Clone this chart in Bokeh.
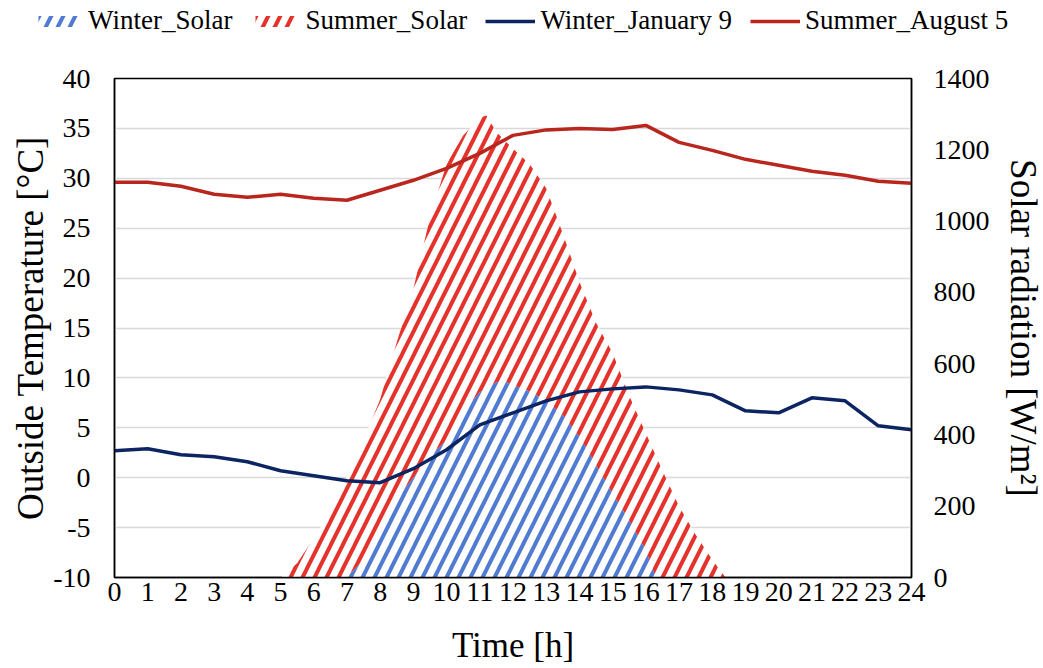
import math
from bokeh.plotting import figure
from bokeh.layouts import column
from bokeh.models import (Range1d, LinearAxis, FixedTicker, Legend, LegendItem,
                          PrintfTickFormatter)
from bokeh.embed import file_html
from bokeh.resources import INLINE

FONT = "Liberation Serif"

# ---- data ----
hours = list(range(25))
winter_temp = [2.7, 2.9, 2.3, 2.1, 1.6, 0.7, 0.2, -0.3, -0.5, 0.9, 2.8, 5.3, 6.5,
               7.7, 8.6, 8.9, 9.1, 8.8, 8.3, 6.7, 6.5, 8.0, 7.7, 5.2, 4.8]
summer_temp = [29.6, 29.6, 29.2, 28.4, 28.1, 28.4, 28.0, 27.8, 28.8, 29.8, 31.0, 32.5, 34.3,
               34.85, 35.0, 34.9, 35.3, 33.6, 32.8, 31.9, 31.3, 30.7, 30.3, 29.7, 29.5]

winter_solar_t = [7.0, 7.5, 8.0, 8.5, 9.0, 9.5, 10.0, 10.5, 11.0, 11.5, 11.7, 12.0, 12.5,
                  13.0, 13.5, 14.0, 14.5, 15.0, 15.5, 16.0, 16.3]
winter_solar = [0, 50, 115, 220, 280, 340, 385, 465, 520, 548, 553, 540, 522,
                495, 455, 395, 315, 235, 160, 76, 0]

summer_solar_t = [5.0, 5.5, 6.0, 6.5, 7.0, 7.5, 8.0, 8.5, 9.0, 9.5, 10.0, 10.5, 11.0, 11.2,
                  11.5, 12.0, 12.5, 13.0, 13.5, 14.0, 14.5, 15.0, 15.5, 16.0, 16.5, 17.0,
                  17.5, 18.0, 18.4]
summer_solar = [0, 40, 110, 185, 285, 385, 500, 660, 810, 1010, 1160, 1240, 1290, 1296,
                1250, 1203, 1160, 1092, 965, 830, 715, 630, 510, 405, 300, 200,
                120, 50, 0]

x_ticks = list(range(0, 25))
temp_ticks = list(range(-10, 41, 5))
solar_ticks = list(range(0, 1401, 200))

series_labels = ["Winter_Solar", "Summer_Solar", "Winter_January 9", "Summer_August 5"]

RED_HATCH = "#E4332A"
BLUE_HATCH = "#4F7CD2"
NAVY = "#0C2461"
DARKRED = "#B8261D"

x_lo, x_hi = 0, 24
t_lo, t_hi = -10, 40
s_lo, s_hi = 0, 1400

HATCH = dict(hatch_pattern="/", hatch_weight=4, hatch_scale=24)

p = figure(frame_width=797, frame_height=499,
           x_range=Range1d(x_lo, x_hi), y_range=Range1d(t_lo, t_hi),
           output_backend="svg", toolbar_location=None, title=None,
           min_border_left=114, min_border_right=129, min_border_top=38, min_border_bottom=88)
p.frame_align = False
p.background_fill_color = "white"
p.border_fill_color = "white"
p.outline_line_color = "black"
p.outline_line_width = 1.5

p.extra_y_ranges = {"solar": Range1d(s_lo, s_hi)}

xaxis = p.xaxis[0]
yaxis = p.yaxis[0]
raxis = LinearAxis(y_range_name="solar")
p.add_layout(raxis, "right")

xaxis.ticker = FixedTicker(ticks=x_ticks)
yaxis.ticker = FixedTicker(ticks=temp_ticks)
yaxis.formatter = PrintfTickFormatter(format="%d")
raxis.ticker = FixedTicker(ticks=solar_ticks)

# title-only axes on the outer sides
ytitle = LinearAxis(ticker=FixedTicker(ticks=[]))
rtitle = LinearAxis(y_range_name="solar", ticker=FixedTicker(ticks=[]))
p.add_layout(ytitle, "left")
p.add_layout(rtitle, "right")

for ax in (xaxis, yaxis, raxis, ytitle, rtitle):
    ax.major_tick_line_color = None
    ax.minor_tick_line_color = None
    ax.major_tick_out = 0
    ax.major_tick_in = 0
    ax.axis_line_color = "black"
    ax.axis_line_width = 1.5
    ax.major_label_text_font = FONT
    ax.major_label_text_font_size = "28px"
    ax.major_label_text_color = "black"
    ax.axis_label_text_font = FONT
    ax.axis_label_text_font_style = "normal"
    ax.axis_label_text_color = "black"
ytitle.axis_line_color = None
rtitle.axis_line_color = None
ytitle.major_label_standoff = 0
rtitle.major_label_standoff = 0

xaxis.major_label_standoff = 5
yaxis.major_label_standoff = 24
raxis.major_label_standoff = 22

xaxis.axis_label = "Time [h]"
xaxis.axis_label_text_font_size = "35px"
xaxis.axis_label_standoff = 22

ytitle.axis_label = "Outside Temperature [°C]"
ytitle.axis_label_text_font_size = "37px"
ytitle.axis_label_standoff = 0

rtitle.axis_label = "Solar radiation [W/m²]"
rtitle.axis_label_text_font_size = "37px"
rtitle.axis_label_standoff = 10

p.xgrid.visible = False
p.ygrid[0].ticker = FixedTicker(ticks=temp_ticks)
p.ygrid.grid_line_color = "#d9d9d9"
p.ygrid.grid_line_width = 1.5

# ---- solar areas (hatched) ----
p.varea(x=summer_solar_t, y1=[0] * len(summer_solar_t), y2=summer_solar,
        y_range_name="solar", fill_color="white", fill_alpha=1.0,
        hatch_color=RED_HATCH, **HATCH)
p.varea(x=winter_solar_t, y1=[0] * len(winter_solar_t), y2=winter_solar,
        y_range_name="solar", fill_color="white", fill_alpha=1.0,
        hatch_color=BLUE_HATCH, **HATCH)

# ---- temperature lines ----
p.line(hours, winter_temp, line_color=NAVY, line_width=3.5)
p.line(hours, summer_temp, line_color=DARKRED, line_width=3.5)

# ---- legend strip above the chart ----
lf = figure(width=1040, height=40, x_range=Range1d(x_lo, x_hi), y_range=Range1d(t_lo, t_hi),
            output_backend="svg", toolbar_location=None, title=None,
            x_axis_location=None, y_axis_location=None, min_border=0)
lf.frame_align = False
lf.grid.visible = False
lf.outline_line_color = None
lf.background_fill_color = "white"
lf.border_fill_color = "white"
lf.extra_y_ranges = {"solar": Range1d(s_lo, s_hi)}
g_win = lf.varea(x=winter_solar_t, y1=[0] * len(winter_solar_t), y2=winter_solar,
                 y_range_name="solar", fill_color="white", hatch_color=BLUE_HATCH,
                 visible=False, **HATCH)
g_sum = lf.varea(x=summer_solar_t, y1=[0] * len(summer_solar_t), y2=summer_solar,
                 y_range_name="solar", fill_color="white", hatch_color=RED_HATCH,
                 visible=False, **HATCH)
g_lw = lf.line(hours, winter_temp, line_color=NAVY, line_width=3.5, visible=False)
g_ls = lf.line(hours, summer_temp, line_color=DARKRED, line_width=3.5, visible=False)

legend = Legend(items=[
    LegendItem(label=series_labels[0], renderers=[g_win]),
    LegendItem(label=series_labels[1], renderers=[g_sum]),
    LegendItem(label=series_labels[2], renderers=[g_lw]),
    LegendItem(label=series_labels[3], renderers=[g_ls]),
], orientation="horizontal", location=(33, 4))
legend.border_line_color = None
legend.background_fill_alpha = 0
legend.inactive_fill_alpha = 0
legend.padding = 0
legend.margin = 0
legend.label_text_font = FONT
legend.label_text_font_size = "27px"
legend.label_text_color = "black"
legend.glyph_width = 50
legend.glyph_height = 14
legend.label_standoff = 5
legend.spacing = 18
lf.add_layout(legend)

layout = column(lf, p, spacing=0)
open("out.html", "w").write(file_html(layout, INLINE))
